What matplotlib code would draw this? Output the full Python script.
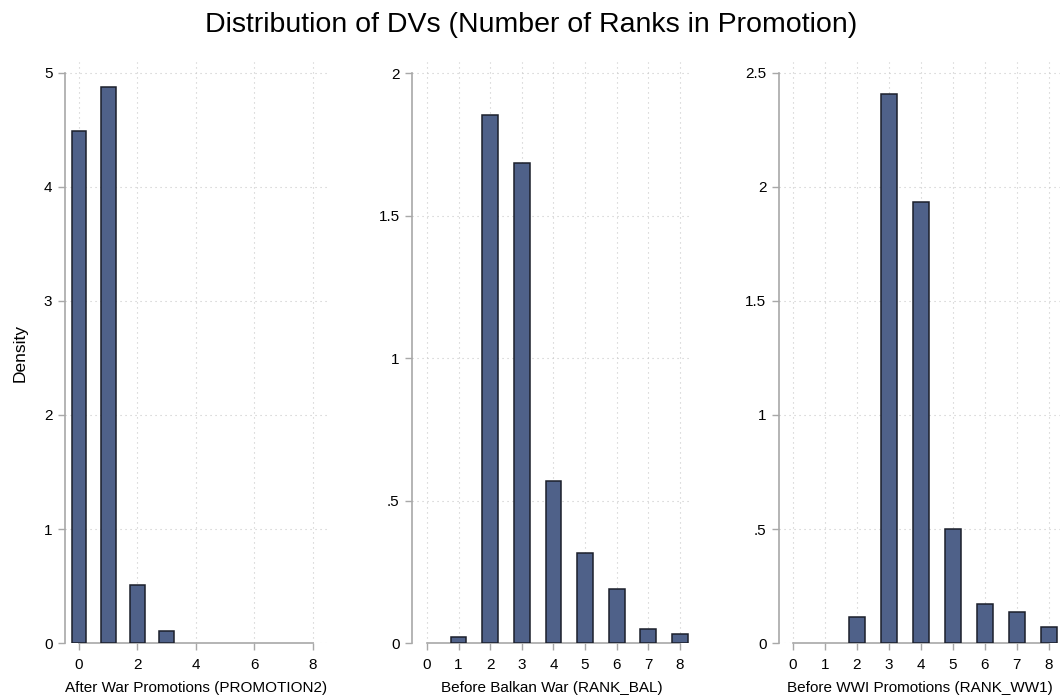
import numpy as np
import matplotlib
matplotlib.use("Agg")
import matplotlib.pyplot as plt

plt.rcParams["font.family"] = ["Liberation Sans", "DejaVu Sans"]

# ----------------------------
# Data: density per rank count
# ----------------------------
promo2_x = [0, 1, 2, 3]
promo2_density = [4.49, 4.88, 0.51, 0.108]

rank_bal_x = [0, 1, 2, 3, 4, 5, 6, 7, 8]
rank_bal_density = [0.0, 0.02, 1.853, 1.684, 0.568, 0.315, 0.188, 0.048, 0.03]

rank_ww1_x = [0, 1, 2, 3, 4, 5, 6, 7, 8]
rank_ww1_density = [0.0, 0.0, 0.115, 2.408, 1.936, 0.499, 0.170, 0.137, 0.069]

x_labels = ["After War Promotions (PROMOTION2)",
            "Before Balkan War (RANK_BAL)",
            "Before WWI Promotions (RANK_WW1)"]

promo2_yticks = [0, 1, 2, 3, 4, 5]
promo2_yticklabels = ["0", "1", "2", "3", "4", "5"]
promo2_xticks = [0, 2, 4, 6, 8]

rank_bal_yticks = [0, 0.5, 1, 1.5, 2]
rank_bal_yticklabels = ["0", ".5", "1", "1.5", "2"]

rank_ww1_yticks = [0, 0.5, 1, 1.5, 2, 2.5]
rank_ww1_yticklabels = ["0", ".5", "1", "1.5", "2", "2.5"]

all_xticks = [0, 1, 2, 3, 4, 5, 6, 7, 8]

bar_color = "#4f6189"
edge_color = "#1b1f2b"
axis_gray = "#a8a8a8"
grid_gray = "#c8c8c8"

fig = plt.figure(figsize=(10.63, 7.0), dpi=100)

panels = [
    # (rect, xs, ys, xticks, yticks, yticklabels, xlim, ylim_top)
    ([0.0611, 0.0814, 0.2465, 0.8300], promo2_x, promo2_density, promo2_xticks,
     promo2_yticks, promo2_yticklabels, (-0.48, 8.48), 5.096),
    ([0.3876, 0.0814, 0.2634, 0.8300], rank_bal_x, rank_bal_density, all_xticks,
     rank_bal_yticks, rank_bal_yticklabels, (-0.47, 8.38), 2.039),
    ([0.7328, 0.0814, 0.2643, 0.8300], rank_ww1_x, rank_ww1_density, all_xticks,
     rank_ww1_yticks, rank_ww1_yticklabels, (-0.44, 8.35), 2.548),
]

for i, (rect, xs, ys, xt, yt, ytl, xlim, ytop) in enumerate(panels):
    ax = fig.add_axes(rect)
    # empty bins get no outline, like a histogram
    xs = np.asarray(xs)
    ys = np.asarray(ys)
    keep = ys > 0
    ax.bar(xs[keep], ys[keep], width=0.5, color=bar_color, edgecolor=edge_color,
           linewidth=1.1, zorder=3)

    ax.set_xlim(*xlim)
    ax.set_ylim(0, ytop)
    ax.set_xticks(xt)
    ax.set_yticks(yt)
    ax.set_yticklabels(ytl)

    ax.grid(True, linestyle=(0, (1, 3.5)), color=grid_gray, linewidth=0.8, zorder=0)
    ax.set_axisbelow(True)

    for side in ("top", "right"):
        ax.spines[side].set_visible(False)
    ax.spines["left"].set_color(axis_gray)
    ax.spines["bottom"].set_color(axis_gray)
    ax.spines["left"].set_linewidth(1.2)
    ax.spines["bottom"].set_linewidth(1.2)
    ax.spines["left"].set_bounds(0, yt[-1])
    ax.spines["bottom"].set_bounds(xt[0], xt[-1])

    ax.tick_params(axis="both", colors=axis_gray, length=5, width=1.0,
                   labelcolor="black", labelsize=11, pad=4)
    ax.tick_params(axis="x", pad=6)

    ax.set_xlabel(x_labels[i], fontsize=11, labelpad=6)
    if i == 0:
        ax.set_ylabel("Density", fontsize=12.5, labelpad=12)

fig.suptitle("Distribution of DVs (Number of Ranks in Promotion)",
             fontsize=20.5, y=0.983)

fig.savefig("out.png", dpi=100)
